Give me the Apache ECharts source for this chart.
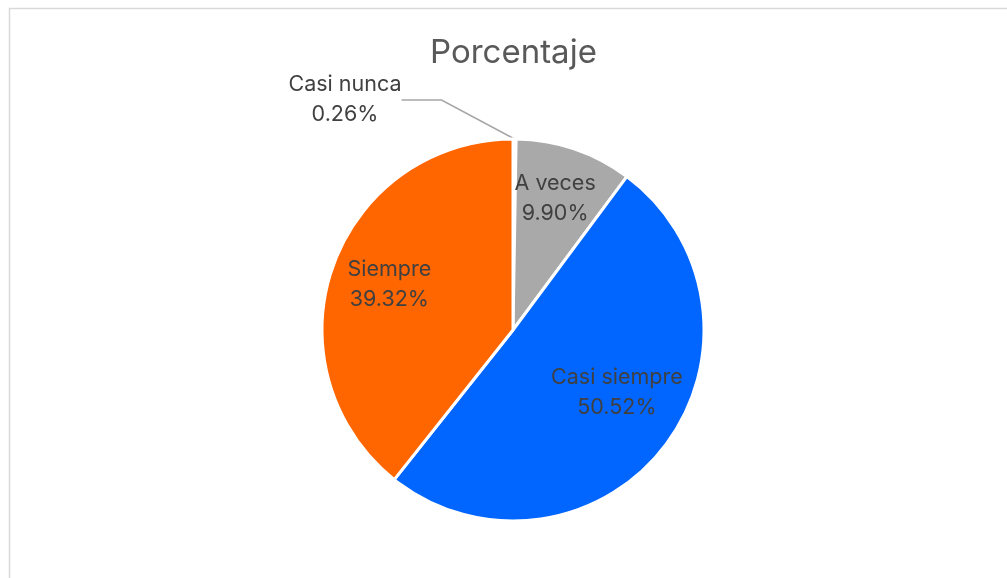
<!DOCTYPE html>
<html>
<head>
<meta charset="utf-8">
<script src="https://cdn.jsdelivr.net/npm/echarts@6/dist/echarts.min.js"></script>
<style>
html,body{margin:0;padding:0;background:#fff;}
#c{width:1007px;height:578px;}
</style>
</head>
<body>
<div id="c"></div>
<script>
const categories = ['Casi nunca', 'A veces', 'Casi siempre', 'Siempre'];
const values = [0.26, 9.90, 50.52, 39.32];
const colors = ['#ffffff', '#A9A9A9', '#0066FF', '#FF6600'];

const FONT = 'Inter, "Noto Sans", sans-serif';
const chart = echarts.init(document.getElementById('c'), null, {renderer: 'canvas'});
const fmt = p => p.name + '\n' + p.value.toFixed(2) + '%';

const mainData = categories.map((n, i) => ({
  name: n, value: values[i],
  itemStyle: {color: colors[i]},
  label: {show: i === 0},
  labelLine: {show: i === 0}
}));
const labelData = categories.map((n, i) => ({
  name: n, value: values[i],
  label: {show: i !== 0}
}));

chart.setOption({
  animation: false,
  title: {
    text: 'Porcentaje', left: 425, top: 32,
    textStyle: {fontFamily: FONT, fontSize: 33, fontWeight: 'normal', color: '#595959'}
  },
  graphic: [{
    type: 'rect', shape: {x: 9.5, y: 8.5, width: 1100, height: 700},
    style: {fill: 'none', stroke: '#d9d9d9', lineWidth: 1.5}, silent: true
  }],
  series: [{
    type: 'pie', center: [513, 330], radius: [0, 191],
    startAngle: 90, clockwise: true, silent: true,
    itemStyle: {borderColor: '#ffffff', borderWidth: 3},
    label: {
      position: 'outside', formatter: fmt, fontFamily: FONT, fontSize: 21.5,
      color: '#404040', lineHeight: 30, align: 'center'
    },
    labelLine: {lineStyle: {color: '#A6A6A6', width: 1.5}, length: 20, length2: 40},
    labelLayout: function (p) {
      if (p.dataIndex === 0) {
        return {x: 345, y: 100, align: 'center', verticalAlign: 'middle'};
      }
    },
    data: mainData
  }, {
    type: 'pie', center: [513, 330], radius: [100, 156],
    startAngle: 90, clockwise: true, silent: true,
    itemStyle: {color: 'rgba(0,0,0,0)'},
    label: {
      position: 'inside', formatter: fmt, fontFamily: FONT, fontSize: 21.5,
      color: '#404040', lineHeight: 30
    },
    labelLine: {show: false},
    labelLayout: function (p) {
      if (p.dataIndex === 1) return {dy: -7};
      if (p.dataIndex === 2) return {dy: -17};
      if (p.dataIndex === 3) return {dy: -2};
    },
    data: labelData
  }]
});
</script>
</body>
</html>
